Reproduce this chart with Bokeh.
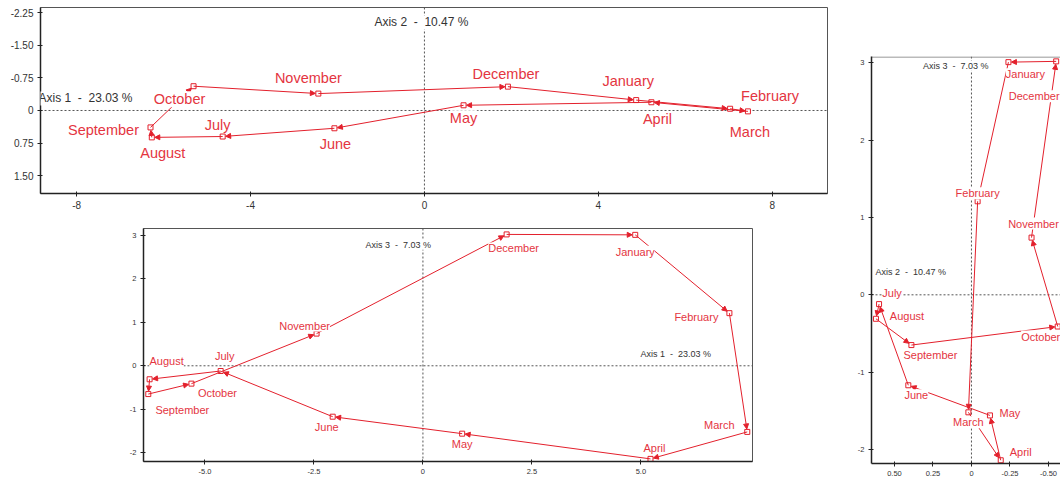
import math

from bokeh.core.properties import value
from bokeh.embed import file_html
from bokeh.layouts import column, row
from bokeh.models import (Arrow, ColumnDataSource, FixedTicker, Label, LabelSet,
                          NormalHead, Range1d, Spacer, Span)
from bokeh.plotting import figure
from bokeh.resources import INLINE

# Monthly coordinates on the first three factorial axes
months = ["January", "February", "March", "April", "May", "June",
          "July", "August", "September", "October", "November", "December"]
axis1 = [4.87, 7.03, 7.44, 5.22, 0.90, -2.07, -4.64, -6.27, -6.30, -5.31, -2.44, 1.92]
axis2 = [-0.24, -0.04, 0.02, -0.19, -0.12, 0.41, 0.60, 0.62, 0.39, -0.56, -0.39, -0.55]
axis3 = [3.01, 1.21, -1.52, -2.14, -1.56, -1.17, -0.12, -0.31, -0.65, -0.41, 0.74, 3.02]

NB = "\u00a0"
axis1_title = f"Axis 1{NB}{NB}-{NB}{NB}23.03 %"
axis2_title = f"Axis 2{NB}{NB}-{NB}{NB}10.47 %"
axis3_title = f"Axis 3{NB}{NB}-{NB}{NB}7.03 %"

top_xticks = [-8, -4, 0, 4, 8]
top_xlabels = ["-8", "-4", "0", "4", "8"]
top_yticks = [-2.25, -1.5, -0.75, 0, 0.75, 1.5]
top_ylabels = ["-2.25", "-1.50", "-0.75", "0", "0.75", "1.50"]
low_xticks = [-5, -2.5, 0, 2.5, 5]
low_xlabels = ["-5.0", "-2.5", "0", "2.5", "5.0"]
low_yticks = [-2, -1, 0, 1, 2, 3]
low_ylabels = ["-2", "-1", "0", "1", "2", "3"]
side_xticks = [0.5, 0.25, 0, -0.25, -0.5]
side_xlabels = ["0.50", "0.25", "0", "-0.25", "-0.50"]
side_yticks = [-2, -1, 0, 1, 2, 3]
side_ylabels = ["-2", "-1", "0", "1", "2", "3"]

RED = "#e3202c"
TXT = "#e4353f"
INK = "#333333"
FONT = "Liberation Sans"

# label placement, screen pixels relative to each point (right, down)
top_offsets = [(-8, -19), (40, -13), (2, 21), (6, 17), (0, 13), (1, 16),
               (-5, -12), (11, 16), (-47, 3), (-14, 13), (-10, -16), (-2, -13)]
low_offsets = [(0, 17), (-33, 4), (-28, -7), (4, -11), (0, 10), (-6, 10),
               (4, -15), (17, -18), (34, 16), (26, 9), (-12, -8), (7, 14)]
side_offsets = [(17, 12), (0, -8), (0, 10), (20, -8), (20, -2), (8, 10),
                (13, -11), (31, -3), (19, 10), (-17, 10), (2, -14), (-22, 35)]


def make_panel(xv, yv, xlim, ylim, size, borders, xticks, xlabels, yticks, ylabels,
               offsets, label_px, tick_px, titles, outline=True):
    w, h = size
    bl, br, bt, bb = borders
    p = figure(width=w, height=h, x_range=Range1d(xlim[0], xlim[1]),
               y_range=Range1d(ylim[0], ylim[1]), output_backend="svg",
               toolbar_location=None, min_border_left=bl, min_border_right=br,
               min_border_top=bt, min_border_bottom=bb,
               background_fill_color="white", border_fill_color="white")
    p.xgrid.visible = False
    p.ygrid.visible = False
    if outline:
        p.outline_line_color = "#555555"
        p.outline_line_width = 1
    else:
        p.outline_line_color = None

    fw = w - bl - br
    fh = h - bt - bb
    kx = fw / (xlim[1] - xlim[0])
    ky = fh / (ylim[1] - ylim[0])

    for ax, ticks, labels in ((p.xaxis[0], xticks, xlabels), (p.yaxis[0], yticks, ylabels)):
        ax.ticker = FixedTicker(ticks=ticks)
        ax.major_label_overrides = {t: s for t, s in zip(ticks, labels)}
        ax.minor_tick_line_color = None
        ax.major_tick_in = 2
        ax.major_tick_out = 3
        ax.major_label_standoff = 4
        ax.major_label_text_font = FONT
        ax.major_label_text_font_size = tick_px
        ax.major_label_text_color = INK
        ax.axis_line_color = "#222222"
        ax.axis_line_width = 1.5
        ax.major_tick_line_color = "#222222"

    # zero reference lines
    for dim in ("width", "height"):
        p.add_layout(Span(location=0, dimension=dim, line_color="#555555",
                          line_dash="2 2", line_width=1, level="underlay"))
    if not outline:
        p.add_layout(Span(location=ylim[1] - 0.5 / ky, dimension="width",
                          line_color="#777777", line_width=1, level="underlay"))

    # chronological trajectory, closing December back to January
    n = len(xv)
    xs, ys, xe, ye = [], [], [], []
    for i in range(n):
        x0, y0 = xv[i - 1], yv[i - 1]
        x1, y1 = xv[i], yv[i]
        L = math.hypot((x1 - x0) * kx, (y1 - y0) * ky)
        t = max(0.0, 1 - 3.0 / L) if L > 0 else 1.0
        xs.append(x0)
        ys.append(y0)
        xe.append(x0 + t * (x1 - x0))
        ye.append(y0 + t * (y1 - y0))
    seg = ColumnDataSource(dict(xs=xs, ys=ys, xe=xe, ye=ye))

    pts = ColumnDataSource(dict(x=xv, y=yv))
    p.scatter("x", "y", source=pts, marker="square", size=5,
              fill_color="white", line_color=RED, line_width=1)
    p.add_layout(Arrow(source=seg, x_start="xs", y_start="ys", x_end="xe", y_end="ye",
                       line_color=RED, line_width=1,
                       end=NormalHead(size=5, fill_color=RED, line_color=RED,
                                      line_width=1)))

    lx = [x + dx / kx for x, (dx, dy) in zip(xv, offsets)]
    ly = [y - dy / ky for y, (dx, dy) in zip(yv, offsets)]
    lab = ColumnDataSource(dict(x=lx, y=ly, text=months))
    p.add_layout(LabelSet(x="x", y="y", text="text", source=lab, text_align="center",
                          text_baseline="middle", text_color=TXT,
                          text_font=value(FONT), text_font_size=label_px,
                          background_fill_color="white"))

    for text, ax_, ay_, dx, dy, align, px in titles:
        p.add_layout(Label(x=ax_ + dx / kx, y=ay_ - dy / ky, text=text,
                           text_align=align, text_baseline="middle", text_color=INK,
                           text_font=FONT, text_font_size=px,
                           background_fill_color="white"))
    return p


top_xlim = (-8.83, 9.27)
top_ylim = (1.914, -2.375)
top = make_panel(axis1, axis2, top_xlim, top_ylim, (835, 222), (40, 8, 7, 29),
                 top_xticks, top_xlabels, top_yticks, top_ylabels, top_offsets,
                 "14.5px", "10px",
                 [(axis1_title, top_xlim[0], 0, -2, -12, "left", "12px"),
                  (axis2_title, 0, 0, -3, -88, "center", "12px")])

low_xlim = (-6.41, 7.56)
low_ylim = (-2.20, 3.156)
low = make_panel(axis1, axis3, low_xlim, low_ylim, (660, 259), (43, 8, 6, 20),
                 low_xticks, low_xlabels, low_yticks, low_ylabels, low_offsets,
                 "11px", "7.5px",
                 [(axis3_title, 0, 0, 8, -121, "right", "9px"),
                  (axis1_title, 0, 0, 288, -12, "right", "9px")])

side_xlim = (0.649, -0.578)
side_ylim = (-2.182, 3.083)
side = make_panel(axis2, axis3, side_xlim, side_ylim, (225, 431), (36, 0, 6, 18),
                  side_xticks, side_xlabels, side_yticks, side_ylabels, side_offsets,
                  "11px", "7.5px",
                  [(axis3_title, 0, 0, 17, -229, "right", "9px"),
                   (axis2_title, 0, 0, -96, -23, "left", "9px")],
                  outline=False)

layout = row(column(top, row(Spacer(width=100, height=259), low)),
             column(Spacer(width=225, height=50), side))

open("out.html", "w").write(file_html(layout, INLINE))
